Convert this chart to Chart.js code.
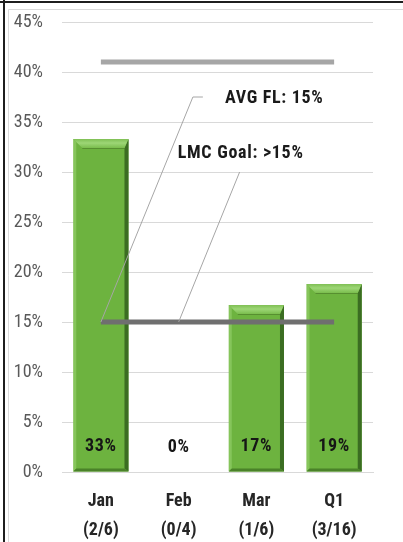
<!DOCTYPE html>
<html>
<head>
<meta charset="utf-8">
<script src="https://cdn.jsdelivr.net/npm/chart.js@4.4.1/dist/chart.umd.min.js"></script>
<style>
  html, body { margin: 0; padding: 0; background: #ffffff; }
  #wrap { position: relative; width: 403px; height: 542px; overflow: hidden; }
  canvas { display: block; }
</style>
</head>
<body>
<div id="wrap"><canvas id="chart" width="403" height="542"></canvas></div>
<script>
// Fall-rate by month with quarter total
const months = ['Jan', 'Feb', 'Mar', 'Q1'];
const counts = ['(2/6)', '(0/4)', '(1/6)', '(3/16)'];
const fallRate = [33.3, 0, 16.7, 18.8];
const goalLine = [15, 15, 15, 15];
const avgLine = [41, 41, 41, 41];
const yTicks = [0, 5, 10, 15, 20, 25, 30, 35, 40, 45];
const callouts = ['AVG FL: 15%', 'LMC Goal: >15%'];

const FONT = "'Liberation Sans Narrow', 'Arial Narrow', 'Roboto Condensed', 'Liberation Sans', sans-serif";

// Outer frame around the chart
const framePlugin = {
  id: 'frame',
  beforeDraw(chart) {
    const ctx = chart.ctx;
    const W = chart.width, H = chart.height;
    ctx.save();
    ctx.strokeStyle = '#d9d9d9';
    ctx.lineWidth = 1;
    ctx.beginPath();
    ctx.moveTo(8.5, H);
    ctx.lineTo(8.5, 9.5);
    ctx.lineTo(W, 9.5);
    ctx.stroke();
    ctx.strokeStyle = '#1e1e1e';
    ctx.lineWidth = 2;
    ctx.beginPath();
    ctx.moveTo(0, 2);
    ctx.lineTo(W, 2);
    ctx.moveTo(4, 0);
    ctx.lineTo(4, H);
    ctx.stroke();
    ctx.restore();
  }
};

// Bevelled look for the bars, drawn right after the bar dataset
const bevelPlugin = {
  id: 'bevel',
  afterDatasetDraw(chart, args) {
    if (chart.data.datasets[args.index].type !== 'bar') return;
    const ctx = chart.ctx;
    ctx.save();
    args.meta.data.forEach(bar => {
      const p = bar.getProps(['x', 'y', 'base', 'width'], true);
      const l = p.x - p.width / 2, r = p.x + p.width / 2;
      const t = p.y, b = p.base;
      if (b - t < 2) return;
      const bv = Math.min(9, (b - t) / 2);
      // left light edge
      ctx.fillStyle = 'rgba(160, 215, 120, 0.5)';
      ctx.beginPath();
      ctx.moveTo(l, t); ctx.lineTo(l + 3, t + 3); ctx.lineTo(l + 3, b - 3); ctx.lineTo(l, b);
      ctx.closePath(); ctx.fill();
      // right dark edge
      ctx.fillStyle = '#3b6d22';
      ctx.beginPath();
      ctx.moveTo(r, t); ctx.lineTo(r, b); ctx.lineTo(r - 4, b - 3); ctx.lineTo(r - 4, t + bv);
      ctx.closePath(); ctx.fill();
      // bottom dark edge
      ctx.fillStyle = '#4a8229';
      ctx.beginPath();
      ctx.moveTo(l, b); ctx.lineTo(r, b); ctx.lineTo(r - 4, b - 3); ctx.lineTo(l + 3, b - 3);
      ctx.closePath(); ctx.fill();
      // top bevel
      const g = ctx.createLinearGradient(0, t, 0, t + bv);
      g.addColorStop(0, '#7fbf54');
      g.addColorStop(0.45, '#9dd676');
      g.addColorStop(1, '#7abd4d');
      ctx.fillStyle = g;
      ctx.beginPath();
      ctx.moveTo(l, t); ctx.lineTo(r, t); ctx.lineTo(r - 4, t + bv); ctx.lineTo(l + bv, t + bv);
      ctx.closePath(); ctx.fill();
      ctx.strokeStyle = 'rgba(60, 100, 30, 0.45)';
      ctx.lineWidth = 1;
      ctx.beginPath();
      ctx.moveTo(l + bv, t + bv + 0.5); ctx.lineTo(r - 4, t + bv + 0.5);
      ctx.stroke();
    });
    ctx.restore();
  }
};

// Value labels at the foot of each bar, plus the two callouts
const labelPlugin = {
  id: 'labels',
  afterDatasetsDraw(chart) {
    const ctx = chart.ctx;
    ctx.save();
    ctx.font = 'bold 18px ' + FONT;
    ctx.letterSpacing = '0.7px';
    ctx.textAlign = 'center';
    ctx.textBaseline = 'middle';
    ctx.fillStyle = '#161616';
    const barMeta = chart.getDatasetMeta(0);
    barMeta.data.forEach((bar, i) => {
      ctx.fillText(Math.round(fallRate[i]) + '%', bar.x, bar.base - 25);
    });

    // leader lines anchored on the goal line points
    const goalMeta = chart.getDatasetMeta(2);
    const layout = [
      { index: 0, path: [[92, -225], [102, -225]], text: [124, -224], align: 'left' },
      { index: 1, path: [[61, -150]], text: [62, -169], align: 'center' }
    ];
    layout.forEach((c, k) => {
      const pt = goalMeta.data[c.index];
      ctx.strokeStyle = '#a6a6a6';
      ctx.lineWidth = 1;
      ctx.beginPath();
      ctx.moveTo(pt.x, pt.y);
      c.path.forEach(([dx, dy]) => ctx.lineTo(pt.x + dx, pt.y + dy));
      ctx.stroke();
      ctx.fillStyle = '#1a1a1a';
      ctx.textAlign = c.align;
      ctx.fillText(callouts[k], pt.x + c.text[0], pt.y + c.text[1]);
    });
    ctx.restore();
  }
};

new Chart(document.getElementById('chart'), {
  data: {
    labels: months.map((m, i) => [m, counts[i]]),
    datasets: [
      {
        type: 'bar',
        label: 'Fall rate',
        data: fallRate,
        backgroundColor: '#6db33f',
        borderWidth: 0,
        barPercentage: 0.71,
        categoryPercentage: 1,
        order: 3
      },
      {
        type: 'line',
        label: 'AVG FL',
        data: avgLine,
        borderColor: '#a6a6a6',
        borderWidth: 5,
        pointRadius: 0,
        fill: false,
        order: 2
      },
      {
        type: 'line',
        label: 'LMC Goal',
        data: goalLine,
        borderColor: '#6f6f6f',
        borderWidth: 5,
        pointRadius: 0,
        fill: false,
        order: 1
      }
    ]
  },
  options: {
    responsive: false,
    animation: false,
    layout: { padding: { left: 8, right: 30, top: 22, bottom: 0 } },
    plugins: {
      legend: { display: false },
      tooltip: { enabled: false }
    },
    scales: {
      x: {
        grid: { display: false, drawTicks: false },
        border: { display: true, color: '#d9d9d9', width: 1 },
        ticks: {
          color: '#262626',
          font: { family: FONT, size: 18, weight: 'bold', lineHeight: 1.6 },
          padding: 15,
          maxRotation: 0,
          autoSkip: false
        },
        afterFit(scale) { scale.height = 70; }
      },
      y: {
        min: 0,
        max: 45,
        afterBuildTicks(scale) { scale.ticks = yTicks.map(v => ({ value: v })); },
        grid: { color: '#d9d9d9', lineWidth: 1, drawTicks: true, tickLength: 16, tickColor: 'rgba(0,0,0,0)' },
        border: { display: false },
        ticks: {
          color: '#595959',
          font: { family: FONT, size: 18 },
          padding: 3,
          callback: v => v + '%'
        },
        afterFit(scale) { scale.width = 54; }
      }
    }
  },
  plugins: [framePlugin, bevelPlugin, labelPlugin]
});
</script>
</body>
</html>
